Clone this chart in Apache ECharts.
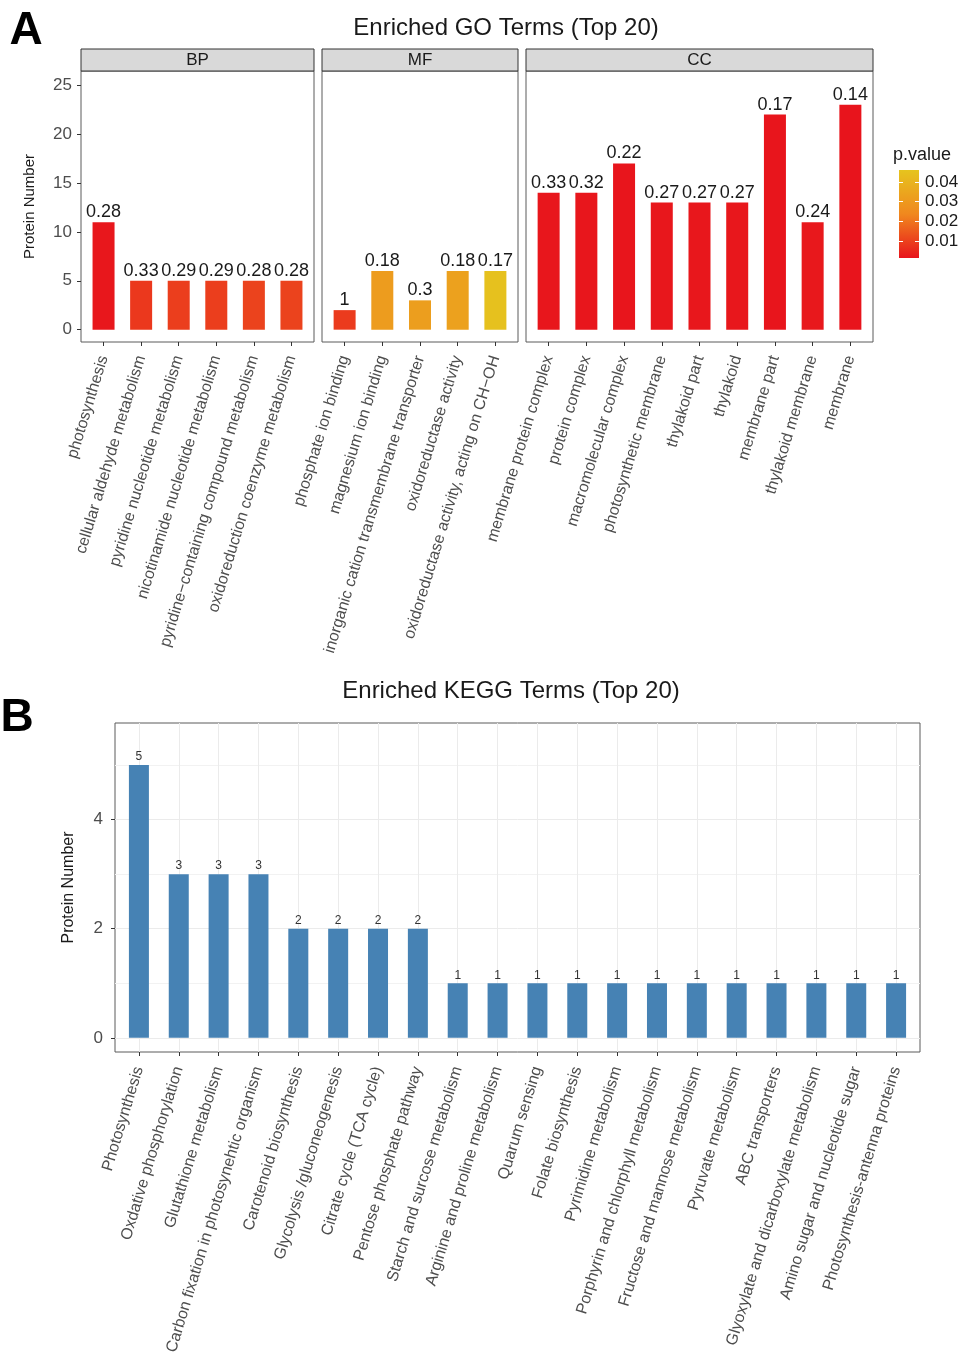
<!DOCTYPE html>
<html>
<head>
<meta charset="utf-8">
<title>Enriched GO / KEGG Terms</title>
<script src="https://cdn.jsdelivr.net/npm/echarts@6.0.0/dist/echarts.min.js"></script>
<style>
  html, body { margin: 0; padding: 0; background: #fff; }
  #chart { width: 962px; height: 1353px; }
</style>
</head>
<body>
<div id="chart"></div>
<script>
// ---- data ----
const bpTerms = ['photosynthesis', 'cellular aldehyde metabolism', 'pyridine nucleotide metabolism',
  'nicotinamide nucleotide metabolism', 'pyridine\u2212containing compound metabolism', 'oxidoreduction coenzyme metabolism'];
const bpCount = [11, 5, 5, 5, 5, 5];
const bpP = [0.002, 0.0085, 0.0095, 0.0095, 0.0105, 0.0105];
const bpLabel = ['0.28', '0.33', '0.29', '0.29', '0.28', '0.28'];

const mfTerms = ['phosphate ion binding', 'magnesium ion binding', 'inorganic cation transmembrane transporter',
  'oxidoreductase activity', 'oxidoreductase activity, acting on CH\u2212OH'];
const mfCount = [2, 6, 3, 6, 6];
const mfP = [0.009, 0.031, 0.032, 0.033, 0.045];
const mfLabel = ['1', '0.18', '0.3', '0.18', '0.17'];

const ccTerms = ['membrane protein complex', 'protein complex', 'macromolecular complex', 'photosynthetic membrane',
  'thylakoid part', 'thylakoid', 'membrane part', 'thylakoid membrane', 'membrane'];
const ccCount = [14, 14, 17, 13, 13, 13, 22, 11, 23];
const ccP = [0.0018, 0.0019, 0.0017, 0.002, 0.002, 0.002, 0.0016, 0.0022, 0.0015];
const ccLabel = ['0.33', '0.32', '0.22', '0.27', '0.27', '0.27', '0.17', '0.24', '0.14'];

const keggTerms = ['Photosynthesis', 'Oxdative phosphorylation', 'Glutathione metabolism',
  'Carbon fixation in photosynehtic organism', 'Carotenoid biosynthesis', 'Glycolysis /gluconeogenesis',
  'Citrate cycle (TCA cycle)', 'Pentose phosphate pathway', 'Starch and surcose metabolism',
  'Arginine and proline metabolism', 'Quarum sensing', 'Folate biosynthesis', 'Pyrimidine metabolism',
  'Porphyrin and chlorphyll metabolism', 'Fructose and mannose metabolism', 'Pyruvate metabolism',
  'ABC transporters', 'Glyoxylate and dicarboxylate metabolism', 'Amino sugar and nucleotide sugar',
  'Photosynthesis-antenna proteins'];
const keggCount = [5, 3, 3, 3, 2, 2, 2, 2, 1, 1, 1, 1, 1, 1, 1, 1, 1, 1, 1, 1];

const goTicks = [0, 5, 10, 15, 20, 25];
const keggTicks = [0, 2, 4];
const keggMinor = [1, 3, 5];
const pTicks = [0.01, 0.02, 0.03, 0.04];
const pMin = 0.0015, pMax = 0.046;
const pColors = ['#E8141C', '#F0881E', '#E6C41E'];

// ---- style ----
const FONT = 'Liberation Sans, Arial, Helvetica, sans-serif';
const axisGrey = '#4d4d4d';
const dark = '#1a1a1a';

const chart = echarts.init(document.getElementById('chart'));

function idx(terms) { return terms.map((t, i) => i); }

function termAxis(gridIndex, terms, grid) {
  return {
    type: 'value', gridIndex: gridIndex,
    min: -0.6, max: terms.length - 0.4,
    axisLine: { show: false, onZero: false },
    axisTick: { show: true, customValues: idx(terms), length: 4, lineStyle: { color: '#333' } },
    axisLabel: {
      customValues: idx(terms),
      formatter: v => terms[Math.round(v)],
      rotate: 73, margin: grid ? 15 : 14, fontSize: 16, color: axisGrey, fontFamily: FONT
    },
    splitLine: { show: !!grid, lineStyle: { color: '#EBEBEB' } }
  };
}

function goY(gridIndex, first) {
  return {
    type: 'value', gridIndex: gridIndex, min: -1.26, max: 26.46,
    axisLine: { show: false, onZero: false },
    axisTick: { show: first, customValues: goTicks, length: 4, lineStyle: { color: '#333' } },
    axisLabel: { show: first, customValues: goTicks, fontSize: 17, color: axisGrey, margin: 9, fontFamily: FONT },
    splitLine: { show: false },
    name: first ? 'Protein Number' : '',
    nameLocation: 'middle', nameGap: 44,
    nameTextStyle: { fontSize: 15, color: dark, fontFamily: FONT }
  };
}

function goSeries(axisIndex, counts, ps, labels) {
  return {
    type: 'bar', xAxisIndex: axisIndex, yAxisIndex: axisIndex,
    barWidth: 22,
    data: counts.map((c, i) => [i, c, ps[i]]),
    encode: { x: 0, y: 1 },
    label: {
      show: true, position: 'top', distance: 1,
      formatter: p => labels[p.dataIndex],
      fontSize: 18, color: dark, fontFamily: FONT
    }
  };
}

const panelBorder = { show: true, borderColor: '#5a5a5a', borderWidth: 1, backgroundColor: '#fff' };

function strip(x, w, text) {
  return [
    { type: 'rect', shape: { x: x, y: 49, width: w, height: 22 },
      style: { fill: '#D9D9D9', stroke: '#333', lineWidth: 1 } },
    { type: 'text', x: x + w / 2, y: 60,
      style: { text: text, fontSize: 17, fill: dark, align: 'center', verticalAlign: 'middle', fontFamily: FONT } }
  ];
}

const option = {
  backgroundColor: '#fff',
  animation: false,
  textStyle: { fontFamily: FONT },
  grid: [
    Object.assign({ left: 81, top: 71, width: 233, height: 271, outerBoundsMode: 'none' }, panelBorder),
    Object.assign({ left: 322, top: 71, width: 196, height: 271, outerBoundsMode: 'none' }, panelBorder),
    Object.assign({ left: 526, top: 71, width: 347, height: 271, outerBoundsMode: 'none' }, panelBorder),
    { left: 115, top: 723, width: 805, height: 329, show: true, borderColor: '#5a5a5a', borderWidth: 1, outerBoundsMode: 'none' },
    { left: 899, top: 170, width: 20, height: 88, show: true, borderWidth: 0, outerBoundsMode: 'none',
      backgroundColor: new echarts.graphic.LinearGradient(0, 1, 0, 0, [
        { offset: 0, color: pColors[0] }, { offset: 0.5, color: pColors[1] }, { offset: 1, color: pColors[2] }
      ]) }
  ],
  xAxis: [
    termAxis(0, bpTerms),
    termAxis(1, mfTerms),
    termAxis(2, ccTerms),
    termAxis(3, keggTerms, true),
    { type: 'value', gridIndex: 4, min: 0, max: 1, show: false, axisLine: { onZero: false } }
  ],
  yAxis: [
    goY(0, true),
    goY(1, false),
    goY(2, false),
    {
      type: 'value', gridIndex: 3, min: -0.26, max: 5.77,
      axisLine: { show: false, onZero: false },
      axisTick: { customValues: keggTicks, length: 4, lineStyle: { color: '#333' } },
      axisLabel: { customValues: keggTicks, fontSize: 17, color: axisGrey, margin: 12, fontFamily: FONT },
      splitLine: { show: true, lineStyle: { color: '#EBEBEB' } },
      name: 'Protein Number', nameLocation: 'middle', nameGap: 38,
      nameTextStyle: { fontSize: 16, color: dark, fontFamily: FONT }
    },
    {
      type: 'value', gridIndex: 3, min: -0.26, max: 5.77,
      axisLine: { show: false, onZero: false },
      axisTick: { show: false, customValues: keggMinor },
      axisLabel: { show: false },
      splitLine: { show: true, lineStyle: { color: '#F2F2F2' } }
    },
    {
      type: 'value', gridIndex: 4, min: pMin, max: pMax, position: 'right',
      axisLine: { show: false, onZero: false },
      axisTick: { show: true, inside: true, customValues: pTicks, length: 4, lineStyle: { color: '#fff' } },
      axisLabel: { customValues: pTicks, formatter: v => v.toFixed(2), fontSize: 17, color: dark, margin: 6, fontFamily: FONT },
      splitLine: { show: false }
    },
    {
      type: 'value', gridIndex: 4, min: pMin, max: pMax, position: 'left',
      axisLine: { show: false, onZero: false },
      axisTick: { show: true, inside: true, customValues: pTicks, length: 4, lineStyle: { color: '#fff' } },
      axisLabel: { show: false },
      splitLine: { show: false }
    }
  ],
  visualMap: {
    type: 'continuous', show: false, dimension: 2, seriesIndex: [0, 1, 2],
    min: pMin, max: pMax, inRange: { color: pColors }
  },
  series: [
    goSeries(0, bpCount, bpP, bpLabel),
    goSeries(1, mfCount, mfP, mfLabel),
    goSeries(2, ccCount, ccP, ccLabel),
    {
      type: 'bar', xAxisIndex: 3, yAxisIndex: 3, barWidth: 20,
      data: keggCount.map((c, i) => [i, c]),
      itemStyle: { color: '#4682B4' },
      label: { show: true, position: 'top', distance: 2, fontSize: 12, color: '#333', fontFamily: FONT }
    }
  ],
  graphic: [
    { type: 'text', x: 26, y: 31,
      style: { text: 'A', fontSize: 46, fontWeight: 'bold', fill: '#000', align: 'center', verticalAlign: 'middle', fontFamily: FONT } },
    { type: 'text', x: 17, y: 718,
      style: { text: 'B', fontSize: 46, fontWeight: 'bold', fill: '#000', align: 'center', verticalAlign: 'middle', fontFamily: FONT } },
    { type: 'text', x: 506, y: 28,
      style: { text: 'Enriched GO Terms (Top 20)', fontSize: 24, fill: dark, align: 'center', verticalAlign: 'middle', fontFamily: FONT } },
    { type: 'text', x: 511, y: 691,
      style: { text: 'Enriched KEGG Terms (Top 20)', fontSize: 24, fill: dark, align: 'center', verticalAlign: 'middle', fontFamily: FONT } },
    { type: 'text', x: 893, y: 155,
      style: { text: 'p.value', fontSize: 18, fill: dark, align: 'left', verticalAlign: 'middle', fontFamily: FONT } }
  ].concat(strip(81, 233, 'BP'), strip(322, 196, 'MF'), strip(526, 347, 'CC'))
};

chart.setOption(option);
window.addEventListener('resize', function () { chart.resize(); });
</script>
</body>
</html>
